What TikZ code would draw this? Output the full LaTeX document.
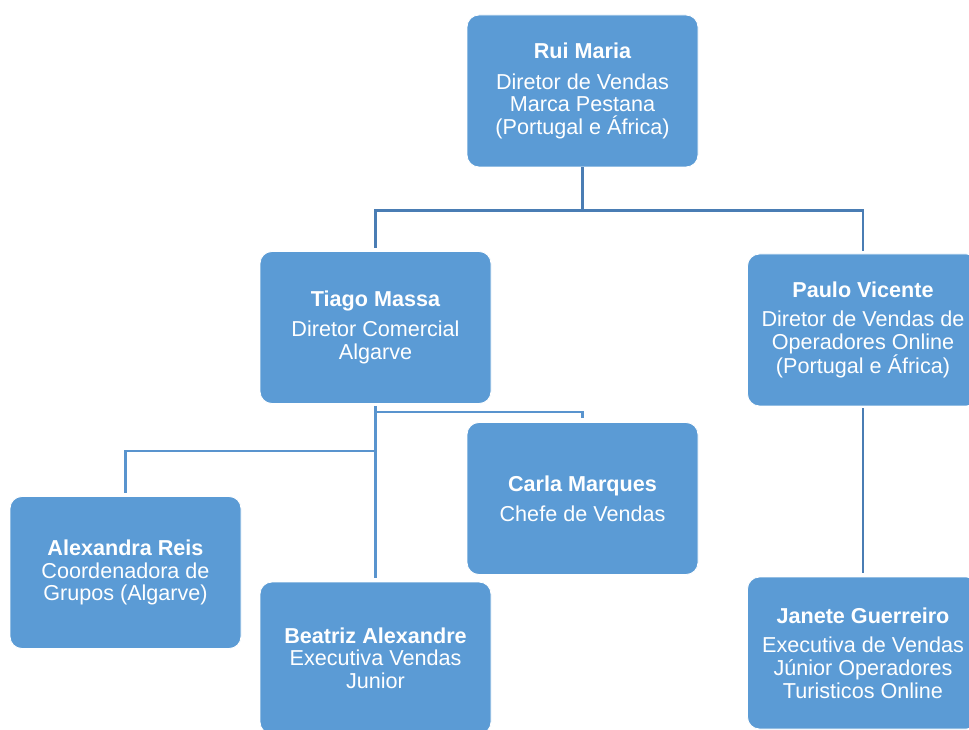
\documentclass[tikz,border=0pt]{standalone}
\usepackage{fontspec}
\setmainfont{Liberation Sans}
\definecolor{boxblue}{HTML}{5B9BD5}
\definecolor{linedark}{HTML}{4A7DB4}
\definecolor{linelight}{HTML}{5994CE}
\begin{document}
\begin{tikzpicture}[x=1pt,y=1pt,
  person/.style={fill=boxblue, draw=white, line width=0.8pt, rounded corners=12pt,
    minimum width=231pt, minimum height=152pt, inner sep=0pt,
    text=white, align=center, font=\fontsize{21.6}{22.6}\selectfont},
  conn/.style={line width=2.6pt, color=linedark},
  connl/.style={line width=2.6pt, color=linelight}]
\useasboundingbox (0,0) rectangle (969,729);
% y_tikz = 729 - y_img
\node[person] (rui) at (582.5,638) {\textbf{Rui Maria}\\[8pt]Diretor de Vendas\\Marca Pestana\\(Portugal e África)};
\node[person] (tiago) at (375.5,401.5) {\textbf{Tiago Massa}\\[7pt]Diretor Comercial\\Algarve};
\node[person] (paulo) at (863,399) {\textbf{Paulo Vicente}\\[7pt]Diretor de Vendas de\\Operadores Online\\(Portugal e África)};
\node[person] (carla) at (582.5,230.5) {\textbf{Carla Marques}\\[7pt]Chefe de Vendas};
\node[person] (alexandra) at (125.5,156.5) {\textbf{Alexandra Reis}\\Coordenadora de\\Grupos (Algarve)};
\node[person] (beatriz) at (375.5,71) {\textbf{Beatriz Alexandre}\\Executiva Vendas\\Junior};
\node[person] (janete) at (863,76) {\textbf{Janete Guerreiro}\\[7pt]Executiva de Vendas\\Júnior Operadores\\Turisticos Online};
\coordinate (rjoin) at ([yshift=-43pt]rui.south);
\draw[conn, shorten >=3pt] (rui.south) -- (rjoin) -| (tiago.north);
\draw[conn, shorten >=3pt] (rjoin) -| (paulo.north);
\draw[conn, shorten <=2pt, shorten >=4pt] (paulo.south) -- (janete.north);
\draw[connl, shorten <=2pt, shorten >=4pt] (tiago.south) -- (beatriz.north);
\draw[connl, shorten >=4pt] ([yshift=-8pt]tiago.south) -| (carla.north);
\draw[connl, shorten >=3pt] ([yshift=-47pt]tiago.south) -| (alexandra.north);
\end{tikzpicture}
\end{document}
